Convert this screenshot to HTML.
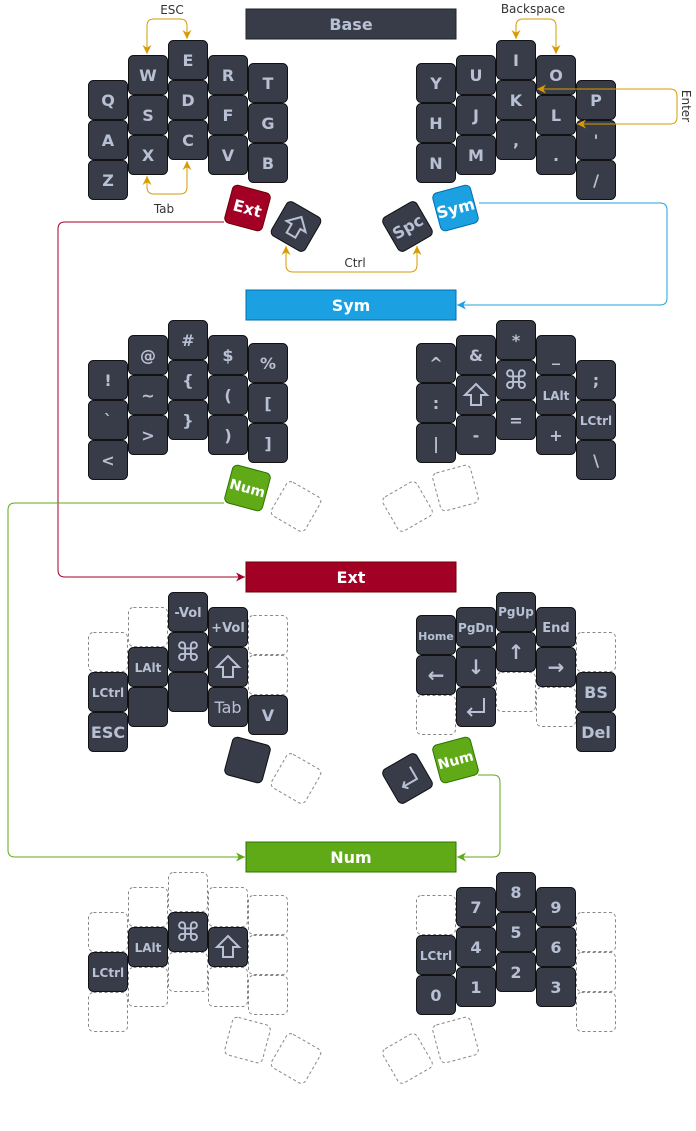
<!DOCTYPE html>
<html><head><meta charset="utf-8"><style>
html,body{margin:0;padding:0;background:#fff}
svg{display:block}
.k{fill:#373c48;stroke:#111;stroke-width:1}
.d{fill:none;stroke:#888;stroke-dasharray:3 2.5}
.t{font-family:"DejaVu Sans","Liberation Sans",sans-serif;font-weight:bold;font-size:16px;fill:#b8c0d4;text-anchor:middle}
.s{font-size:12px}
.xs{font-size:11px}
.g{font-size:26px;font-weight:normal}
.w{fill:#fff}
.lbl{font-family:"DejaVu Sans","Liberation Sans",sans-serif;font-size:12px;fill:#333;text-anchor:middle}
.ic{fill:none;stroke:#b8c0d4;stroke-width:2;stroke-linejoin:miter}
</style></head><body>
<svg width="696" height="1131" viewBox="0 0 696 1131" xmlns="http://www.w3.org/2000/svg">
<defs>
<marker id="ao" viewBox="0 0 10 10" refX="10" refY="5" markerWidth="9" markerHeight="9" markerUnits="userSpaceOnUse" orient="auto-start-reverse"><path d="M0,0 L10,5 L0,10 L3,5z" fill="#d79b00"/></marker>
<marker id="ab" viewBox="0 0 10 10" refX="10" refY="5" markerWidth="9" markerHeight="9" markerUnits="userSpaceOnUse" orient="auto"><path d="M0,0 L10,5 L0,10 L3,5z" fill="#1ba1e2"/></marker>
<marker id="ar" viewBox="0 0 10 10" refX="10" refY="5" markerWidth="9" markerHeight="9" markerUnits="userSpaceOnUse" orient="auto"><path d="M0,0 L10,5 L0,10 L3,5z" fill="#a20025"/></marker>
<marker id="ag" viewBox="0 0 10 10" refX="10" refY="5" markerWidth="9" markerHeight="9" markerUnits="userSpaceOnUse" orient="auto"><path d="M0,0 L10,5 L0,10 L3,5z" fill="#60a917"/></marker>
</defs>

<!-- ============ BASE ============ -->
<rect x="246" y="9" width="210" height="30" fill="#373c48" stroke="#222"/>
<text x="351" y="30" class="t">Base</text>

<g transform="translate(88,80)"><rect class="k" x=".5" y=".5" width="39" height="39" rx="5"/><text class="t" x="20" y="26">Q</text></g>
<g transform="translate(88,120)"><rect class="k" x=".5" y=".5" width="39" height="39" rx="5"/><text class="t" x="20" y="26">A</text></g>
<g transform="translate(88,160)"><rect class="k" x=".5" y=".5" width="39" height="39" rx="5"/><text class="t" x="20" y="26">Z</text></g>
<g transform="translate(128,55)"><rect class="k" x=".5" y=".5" width="39" height="39" rx="5"/><text class="t" x="20" y="26">W</text></g>
<g transform="translate(128,95)"><rect class="k" x=".5" y=".5" width="39" height="39" rx="5"/><text class="t" x="20" y="26">S</text></g>
<g transform="translate(128,135)"><rect class="k" x=".5" y=".5" width="39" height="39" rx="5"/><text class="t" x="20" y="26">X</text></g>
<g transform="translate(168,40)"><rect class="k" x=".5" y=".5" width="39" height="39" rx="5"/><text class="t" x="20" y="26">E</text></g>
<g transform="translate(168,80)"><rect class="k" x=".5" y=".5" width="39" height="39" rx="5"/><text class="t" x="20" y="26">D</text></g>
<g transform="translate(168,120)"><rect class="k" x=".5" y=".5" width="39" height="39" rx="5"/><text class="t" x="20" y="26">C</text></g>
<g transform="translate(208,55)"><rect class="k" x=".5" y=".5" width="39" height="39" rx="5"/><text class="t" x="20" y="26">R</text></g>
<g transform="translate(208,95)"><rect class="k" x=".5" y=".5" width="39" height="39" rx="5"/><text class="t" x="20" y="26">F</text></g>
<g transform="translate(208,135)"><rect class="k" x=".5" y=".5" width="39" height="39" rx="5"/><text class="t" x="20" y="26">V</text></g>
<g transform="translate(248,63)"><rect class="k" x=".5" y=".5" width="39" height="39" rx="5"/><text class="t" x="20" y="26">T</text></g>
<g transform="translate(248,103)"><rect class="k" x=".5" y=".5" width="39" height="39" rx="5"/><text class="t" x="20" y="26">G</text></g>
<g transform="translate(248,143)"><rect class="k" x=".5" y=".5" width="39" height="39" rx="5"/><text class="t" x="20" y="26">B</text></g>

<g transform="translate(416,63)"><rect class="k" x=".5" y=".5" width="39" height="39" rx="5"/><text class="t" x="20" y="26">Y</text></g>
<g transform="translate(416,103)"><rect class="k" x=".5" y=".5" width="39" height="39" rx="5"/><text class="t" x="20" y="26">H</text></g>
<g transform="translate(416,143)"><rect class="k" x=".5" y=".5" width="39" height="39" rx="5"/><text class="t" x="20" y="26">N</text></g>
<g transform="translate(456,55)"><rect class="k" x=".5" y=".5" width="39" height="39" rx="5"/><text class="t" x="20" y="26">U</text></g>
<g transform="translate(456,95)"><rect class="k" x=".5" y=".5" width="39" height="39" rx="5"/><text class="t" x="20" y="26">J</text></g>
<g transform="translate(456,135)"><rect class="k" x=".5" y=".5" width="39" height="39" rx="5"/><text class="t" x="20" y="26">M</text></g>
<g transform="translate(496,40)"><rect class="k" x=".5" y=".5" width="39" height="39" rx="5"/><text class="t" x="20" y="26">I</text></g>
<g transform="translate(496,80)"><rect class="k" x=".5" y=".5" width="39" height="39" rx="5"/><text class="t" x="20" y="26">K</text></g>
<g transform="translate(496,120)"><rect class="k" x=".5" y=".5" width="39" height="39" rx="5"/><text class="t" x="20" y="26">,</text></g>
<g transform="translate(536,55)"><rect class="k" x=".5" y=".5" width="39" height="39" rx="5"/><text class="t" x="20" y="26">O</text></g>
<g transform="translate(536,95)"><rect class="k" x=".5" y=".5" width="39" height="39" rx="5"/><text class="t" x="20" y="26">L</text></g>
<g transform="translate(536,135)"><rect class="k" x=".5" y=".5" width="39" height="39" rx="5"/><text class="t" x="20" y="26">.</text></g>
<g transform="translate(576,80)"><rect class="k" x=".5" y=".5" width="39" height="39" rx="5"/><text class="t" x="20" y="26">P</text></g>
<g transform="translate(576,120)"><rect class="k" x=".5" y=".5" width="39" height="39" rx="5"/><text class="t" x="20" y="26">'</text></g>
<g transform="translate(576,160)"><rect class="k" x=".5" y=".5" width="39" height="39" rx="5"/><text class="t" x="20" y="26">/</text></g>

<!-- base thumbs -->
<g transform="translate(247.5,208) rotate(15)"><rect x="-19.5" y="-19.5" width="39" height="39" rx="5" fill="#a20025" stroke="#6f0000"/><text class="t w" x="0" y="6">Ext</text></g>
<g transform="translate(296,226.5) rotate(30)"><rect class="k" x="-19.5" y="-19.5" width="39" height="39" rx="5"/><polygon class="ic" points="0,-11 11,0 5,0 5,10 -5,10 -5,0 -11,0"/></g>
<g transform="translate(407.5,226.5) rotate(-30)"><rect class="k" x="-19.5" y="-19.5" width="39" height="39" rx="5"/><text class="t" x="0" y="6">Spc</text></g>
<g transform="translate(455.5,208) rotate(-15)"><rect x="-19.5" y="-19.5" width="39" height="39" rx="5" fill="#1ba1e2" stroke="#006eaf"/><text class="t w" x="0" y="6">Sym</text></g>

<!-- base connectors -->
<path d="M147,54 V26 Q147,19 154,19 H180 Q187,19 187,26 V39" fill="none" stroke="#d79b00" marker-start="url(#ao)" marker-end="url(#ao)"/>
<text class="lbl" x="172" y="14">ESC</text>
<path d="M147,176 V187 Q147,194 154,194 H180 Q187,194 187,187 V161" fill="none" stroke="#d79b00" marker-start="url(#ao)" marker-end="url(#ao)"/>
<text class="lbl" x="164" y="213">Tab</text>
<path d="M516,39 V26 Q516,19 523,19 H549 Q556,19 556,26 V54" fill="none" stroke="#d79b00" marker-start="url(#ao)" marker-end="url(#ao)"/>
<text class="lbl" x="533" y="13">Backspace</text>
<path d="M537,89 H670 Q677,89 677,96 V117 Q677,124 670,124 H577" fill="none" stroke="#d79b00" marker-start="url(#ao)" marker-end="url(#ao)"/>
<text class="lbl" transform="translate(682,106) rotate(90)" x="0" y="0">Enter</text>
<path d="M286,246 V265 Q286,272 293,272 H410 Q417,272 417,265 V246" fill="none" stroke="#d79b00" marker-start="url(#ao)" marker-end="url(#ao)"/>
<text class="lbl" x="355" y="267">Ctrl</text>
<path d="M479,203 H660 Q667,203 667,210 V298 Q667,305 660,305 H457" fill="none" stroke="#1ba1e2" marker-end="url(#ab)"/>
<path d="M224,222 H65 Q58,222 58,229 V570 Q58,577 65,577 H245" fill="none" stroke="#a20025" marker-end="url(#ar)"/>

<!-- ============ SYM ============ -->
<rect x="246" y="290" width="210" height="30" fill="#1ba1e2" stroke="#006eaf"/>
<text x="351" y="311" class="t w">Sym</text>

<g transform="translate(88,360)"><rect class="k" x=".5" y=".5" width="39" height="39" rx="5"/><text class="t" x="20" y="26">!</text></g>
<g transform="translate(88,400)"><rect class="k" x=".5" y=".5" width="39" height="39" rx="5"/><text class="t" x="20" y="26">`</text></g>
<g transform="translate(88,440)"><rect class="k" x=".5" y=".5" width="39" height="39" rx="5"/><text class="t" x="20" y="26">&lt;</text></g>
<g transform="translate(128,335)"><rect class="k" x=".5" y=".5" width="39" height="39" rx="5"/><text class="t" x="20" y="26">@</text></g>
<g transform="translate(128,375)"><rect class="k" x=".5" y=".5" width="39" height="39" rx="5"/><text class="t" x="20" y="26">~</text></g>
<g transform="translate(128,415)"><rect class="k" x=".5" y=".5" width="39" height="39" rx="5"/><text class="t" x="20" y="26">&gt;</text></g>
<g transform="translate(168,320)"><rect class="k" x=".5" y=".5" width="39" height="39" rx="5"/><text class="t" x="20" y="26">#</text></g>
<g transform="translate(168,360)"><rect class="k" x=".5" y=".5" width="39" height="39" rx="5"/><text class="t" x="20" y="26">{</text></g>
<g transform="translate(168,400)"><rect class="k" x=".5" y=".5" width="39" height="39" rx="5"/><text class="t" x="20" y="26">}</text></g>
<g transform="translate(208,335)"><rect class="k" x=".5" y=".5" width="39" height="39" rx="5"/><text class="t" x="20" y="26">$</text></g>
<g transform="translate(208,375)"><rect class="k" x=".5" y=".5" width="39" height="39" rx="5"/><text class="t" x="20" y="26">(</text></g>
<g transform="translate(208,415)"><rect class="k" x=".5" y=".5" width="39" height="39" rx="5"/><text class="t" x="20" y="26">)</text></g>
<g transform="translate(248,343)"><rect class="k" x=".5" y=".5" width="39" height="39" rx="5"/><text class="t" x="20" y="26">%</text></g>
<g transform="translate(248,383)"><rect class="k" x=".5" y=".5" width="39" height="39" rx="5"/><text class="t" x="20" y="26">[</text></g>
<g transform="translate(248,423)"><rect class="k" x=".5" y=".5" width="39" height="39" rx="5"/><text class="t" x="20" y="26">]</text></g>

<g transform="translate(416,343)"><rect class="k" x=".5" y=".5" width="39" height="39" rx="5"/><text class="t" x="20" y="26">^</text></g>
<g transform="translate(416,383)"><rect class="k" x=".5" y=".5" width="39" height="39" rx="5"/><text class="t" x="20" y="26">:</text></g>
<g transform="translate(416,423)"><rect class="k" x=".5" y=".5" width="39" height="39" rx="5"/><text class="t" x="20" y="26">|</text></g>
<g transform="translate(456,335)"><rect class="k" x=".5" y=".5" width="39" height="39" rx="5"/><text class="t" x="20" y="26">&amp;</text></g>
<g transform="translate(456,375)"><rect class="k" x=".5" y=".5" width="39" height="39" rx="5"/><polygon class="ic" transform="translate(20,20)" points="0,-11 11,0 5,0 5,10 -5,10 -5,0 -11,0"/></g>
<g transform="translate(456,415)"><rect class="k" x=".5" y=".5" width="39" height="39" rx="5"/><text class="t" x="20" y="26">-</text></g>
<g transform="translate(496,320)"><rect class="k" x=".5" y=".5" width="39" height="39" rx="5"/><text class="t" x="20" y="26">*</text></g>
<g transform="translate(496,360)"><rect class="k" x=".5" y=".5" width="39" height="39" rx="5"/><text class="t g" x="20" y="29">⌘</text></g>
<g transform="translate(496,400)"><rect class="k" x=".5" y=".5" width="39" height="39" rx="5"/><text class="t" x="20" y="26">=</text></g>
<g transform="translate(536,335)"><rect class="k" x=".5" y=".5" width="39" height="39" rx="5"/><text class="t" x="20" y="26">_</text></g>
<g transform="translate(536,375)"><rect class="k" x=".5" y=".5" width="39" height="39" rx="5"/><text class="t s" x="20" y="25">LAlt</text></g>
<g transform="translate(536,415)"><rect class="k" x=".5" y=".5" width="39" height="39" rx="5"/><text class="t" x="20" y="26">+</text></g>
<g transform="translate(576,360)"><rect class="k" x=".5" y=".5" width="39" height="39" rx="5"/><text class="t" x="20" y="26">;</text></g>
<g transform="translate(576,400)"><rect class="k" x=".5" y=".5" width="39" height="39" rx="5"/><text class="t s" x="20" y="25">LCtrl</text></g>
<g transform="translate(576,440)"><rect class="k" x=".5" y=".5" width="39" height="39" rx="5"/><text class="t" x="20" y="26">\</text></g>

<g transform="translate(247.5,488) rotate(15)"><rect x="-19.5" y="-19.5" width="39" height="39" rx="5" fill="#60a917" stroke="#2d7600"/><text class="t w s" x="0" y="5" style="font-size:14px">Num</text></g>
<g transform="translate(296,506.5) rotate(30)"><rect class="d" x="-19.5" y="-19.5" width="39" height="39" rx="5"/></g>
<g transform="translate(407.5,506.5) rotate(-30)"><rect class="d" x="-19.5" y="-19.5" width="39" height="39" rx="5"/></g>
<g transform="translate(455.5,488) rotate(-15)"><rect class="d" x="-19.5" y="-19.5" width="39" height="39" rx="5"/></g>
<path d="M224,503 H15 Q8,503 8,510 V850 Q8,857 15,857 H245" fill="none" stroke="#60a917" marker-end="url(#ag)"/>

<!-- ============ EXT ============ -->
<rect x="246" y="562" width="210" height="30" fill="#a20025" stroke="#6f0000"/>
<text x="351" y="583" class="t w">Ext</text>

<g transform="translate(88,632)"><rect class="d" x=".5" y=".5" width="39" height="39" rx="5"/></g>
<g transform="translate(88,672)"><rect class="k" x=".5" y=".5" width="39" height="39" rx="5"/><text class="t s" x="20" y="25">LCtrl</text></g>
<g transform="translate(88,712)"><rect class="k" x=".5" y=".5" width="39" height="39" rx="5"/><text class="t" x="20" y="26">ESC</text></g>
<g transform="translate(128,607)"><rect class="d" x=".5" y=".5" width="39" height="39" rx="5"/></g>
<g transform="translate(128,647)"><rect class="k" x=".5" y=".5" width="39" height="39" rx="5"/><text class="t s" x="20" y="25">LAlt</text></g>
<g transform="translate(128,687)"><rect class="k" x=".5" y=".5" width="39" height="39" rx="5"/></g>
<g transform="translate(168,592)"><rect class="k" x=".5" y=".5" width="39" height="39" rx="5"/><text class="t" x="20" y="25" style="font-size:13px">-Vol</text></g>
<g transform="translate(168,632)"><rect class="k" x=".5" y=".5" width="39" height="39" rx="5"/><text class="t g" x="20" y="29">⌘</text></g>
<g transform="translate(168,672)"><rect class="k" x=".5" y=".5" width="39" height="39" rx="5"/></g>
<g transform="translate(208,607)"><rect class="k" x=".5" y=".5" width="39" height="39" rx="5"/><text class="t" x="20" y="25" style="font-size:13px">+Vol</text></g>
<g transform="translate(208,647)"><rect class="k" x=".5" y=".5" width="39" height="39" rx="5"/><polygon class="ic" transform="translate(20,20)" points="0,-11 11,0 5,0 5,10 -5,10 -5,0 -11,0"/></g>
<g transform="translate(208,687)"><rect class="k" x=".5" y=".5" width="39" height="39" rx="5"/><text class="t" x="20" y="26" style="font-weight:normal">Tab</text></g>
<g transform="translate(248,615)"><rect class="d" x=".5" y=".5" width="39" height="39" rx="5"/></g>
<g transform="translate(248,655)"><rect class="d" x=".5" y=".5" width="39" height="39" rx="5"/></g>
<g transform="translate(248,695)"><rect class="k" x=".5" y=".5" width="39" height="39" rx="5"/><text class="t" x="20" y="26">V</text></g>

<g transform="translate(416,615)"><rect class="k" x=".5" y=".5" width="39" height="39" rx="5"/><text class="t xs" x="20" y="25">Home</text></g>
<g transform="translate(416,655)"><rect class="k" x=".5" y=".5" width="39" height="39" rx="5"/><text class="t" x="20" y="27" style="font-size:20px">←</text></g>
<g transform="translate(416,695)"><rect class="d" x=".5" y=".5" width="39" height="39" rx="5"/></g>
<g transform="translate(456,607)"><rect class="k" x=".5" y=".5" width="39" height="39" rx="5"/><text class="t s" x="20" y="25">PgDn</text></g>
<g transform="translate(456,647)"><rect class="k" x=".5" y=".5" width="39" height="39" rx="5"/><text class="t" x="20" y="27" style="font-size:20px">↓</text></g>
<g transform="translate(456,687)"><rect class="k" x=".5" y=".5" width="39" height="39" rx="5"/><path class="ic" d="M28,11 V25 H12 M16,21 L12,25 L16,29"/></g>
<g transform="translate(496,592)"><rect class="k" x=".5" y=".5" width="39" height="39" rx="5"/><text class="t s" x="20" y="24">PgUp</text></g>
<g transform="translate(496,632)"><rect class="k" x=".5" y=".5" width="39" height="39" rx="5"/><text class="t" x="20" y="27" style="font-size:20px">↑</text></g>
<g transform="translate(496,672)"><rect class="d" x=".5" y=".5" width="39" height="39" rx="5"/></g>
<g transform="translate(536,607)"><rect class="k" x=".5" y=".5" width="39" height="39" rx="5"/><text class="t" x="20" y="25" style="font-size:13px">End</text></g>
<g transform="translate(536,647)"><rect class="k" x=".5" y=".5" width="39" height="39" rx="5"/><text class="t" x="20" y="27" style="font-size:20px">→</text></g>
<g transform="translate(536,687)"><rect class="d" x=".5" y=".5" width="39" height="39" rx="5"/></g>
<g transform="translate(576,632)"><rect class="d" x=".5" y=".5" width="39" height="39" rx="5"/></g>
<g transform="translate(576,672)"><rect class="k" x=".5" y=".5" width="39" height="39" rx="5"/><text class="t" x="20" y="26">BS</text></g>
<g transform="translate(576,712)"><rect class="k" x=".5" y=".5" width="39" height="39" rx="5"/><text class="t" x="20" y="26">Del</text></g>

<g transform="translate(247.5,760) rotate(15)"><rect class="k" x="-19.5" y="-19.5" width="39" height="39" rx="5"/></g>
<g transform="translate(296,778.5) rotate(30)"><rect class="d" x="-19.5" y="-19.5" width="39" height="39" rx="5"/></g>
<g transform="translate(407.5,778.5) rotate(-30)"><rect class="k" x="-19.5" y="-19.5" width="39" height="39" rx="5"/><path class="ic" d="M8,-9 V5 H-8 M-4,1 L-8,5 L-4,9"/></g>
<g transform="translate(455.5,760) rotate(-15)"><rect x="-19.5" y="-19.5" width="39" height="39" rx="5" fill="#60a917" stroke="#2d7600"/><text class="t w" x="0" y="5" style="font-size:14px">Num</text></g>
<path d="M478,775 H493 Q500,775 500,782 V850 Q500,857 493,857 H457" fill="none" stroke="#60a917" marker-end="url(#ag)"/>

<!-- ============ NUM ============ -->
<rect x="246" y="842" width="210" height="30" fill="#60a917" stroke="#2d7600"/>
<text x="351" y="863" class="t w">Num</text>

<g transform="translate(88,912)"><rect class="d" x=".5" y=".5" width="39" height="39" rx="5"/></g>
<g transform="translate(88,952)"><rect class="k" x=".5" y=".5" width="39" height="39" rx="5"/><text class="t s" x="20" y="25">LCtrl</text></g>
<g transform="translate(88,992)"><rect class="d" x=".5" y=".5" width="39" height="39" rx="5"/></g>
<g transform="translate(128,887)"><rect class="d" x=".5" y=".5" width="39" height="39" rx="5"/></g>
<g transform="translate(128,927)"><rect class="k" x=".5" y=".5" width="39" height="39" rx="5"/><text class="t s" x="20" y="25">LAlt</text></g>
<g transform="translate(128,967)"><rect class="d" x=".5" y=".5" width="39" height="39" rx="5"/></g>
<g transform="translate(168,872)"><rect class="d" x=".5" y=".5" width="39" height="39" rx="5"/></g>
<g transform="translate(168,912)"><rect class="k" x=".5" y=".5" width="39" height="39" rx="5"/><text class="t g" x="20" y="29">⌘</text></g>
<g transform="translate(168,952)"><rect class="d" x=".5" y=".5" width="39" height="39" rx="5"/></g>
<g transform="translate(208,887)"><rect class="d" x=".5" y=".5" width="39" height="39" rx="5"/></g>
<g transform="translate(208,927)"><rect class="k" x=".5" y=".5" width="39" height="39" rx="5"/><polygon class="ic" transform="translate(20,20)" points="0,-11 11,0 5,0 5,10 -5,10 -5,0 -11,0"/></g>
<g transform="translate(208,967)"><rect class="d" x=".5" y=".5" width="39" height="39" rx="5"/></g>
<g transform="translate(248,895)"><rect class="d" x=".5" y=".5" width="39" height="39" rx="5"/></g>
<g transform="translate(248,935)"><rect class="d" x=".5" y=".5" width="39" height="39" rx="5"/></g>
<g transform="translate(248,975)"><rect class="d" x=".5" y=".5" width="39" height="39" rx="5"/></g>

<g transform="translate(416,895)"><rect class="d" x=".5" y=".5" width="39" height="39" rx="5"/></g>
<g transform="translate(416,935)"><rect class="k" x=".5" y=".5" width="39" height="39" rx="5"/><text class="t s" x="20" y="25">LCtrl</text></g>
<g transform="translate(416,975)"><rect class="k" x=".5" y=".5" width="39" height="39" rx="5"/><text class="t" x="20" y="26">0</text></g>
<g transform="translate(456,887)"><rect class="k" x=".5" y=".5" width="39" height="39" rx="5"/><text class="t" x="20" y="26">7</text></g>
<g transform="translate(456,927)"><rect class="k" x=".5" y=".5" width="39" height="39" rx="5"/><text class="t" x="20" y="26">4</text></g>
<g transform="translate(456,967)"><rect class="k" x=".5" y=".5" width="39" height="39" rx="5"/><text class="t" x="20" y="26">1</text></g>
<g transform="translate(496,872)"><rect class="k" x=".5" y=".5" width="39" height="39" rx="5"/><text class="t" x="20" y="26">8</text></g>
<g transform="translate(496,912)"><rect class="k" x=".5" y=".5" width="39" height="39" rx="5"/><text class="t" x="20" y="26">5</text></g>
<g transform="translate(496,952)"><rect class="k" x=".5" y=".5" width="39" height="39" rx="5"/><text class="t" x="20" y="26">2</text></g>
<g transform="translate(536,887)"><rect class="k" x=".5" y=".5" width="39" height="39" rx="5"/><text class="t" x="20" y="26">9</text></g>
<g transform="translate(536,927)"><rect class="k" x=".5" y=".5" width="39" height="39" rx="5"/><text class="t" x="20" y="26">6</text></g>
<g transform="translate(536,967)"><rect class="k" x=".5" y=".5" width="39" height="39" rx="5"/><text class="t" x="20" y="26">3</text></g>
<g transform="translate(576,912)"><rect class="d" x=".5" y=".5" width="39" height="39" rx="5"/></g>
<g transform="translate(576,952)"><rect class="d" x=".5" y=".5" width="39" height="39" rx="5"/></g>
<g transform="translate(576,992)"><rect class="d" x=".5" y=".5" width="39" height="39" rx="5"/></g>

<g transform="translate(247.5,1040) rotate(15)"><rect class="d" x="-19.5" y="-19.5" width="39" height="39" rx="5"/></g>
<g transform="translate(296,1058.5) rotate(30)"><rect class="d" x="-19.5" y="-19.5" width="39" height="39" rx="5"/></g>
<g transform="translate(407.5,1058.5) rotate(-30)"><rect class="d" x="-19.5" y="-19.5" width="39" height="39" rx="5"/></g>
<g transform="translate(455.5,1040) rotate(-15)"><rect class="d" x="-19.5" y="-19.5" width="39" height="39" rx="5"/></g>
</svg>
</body></html>
